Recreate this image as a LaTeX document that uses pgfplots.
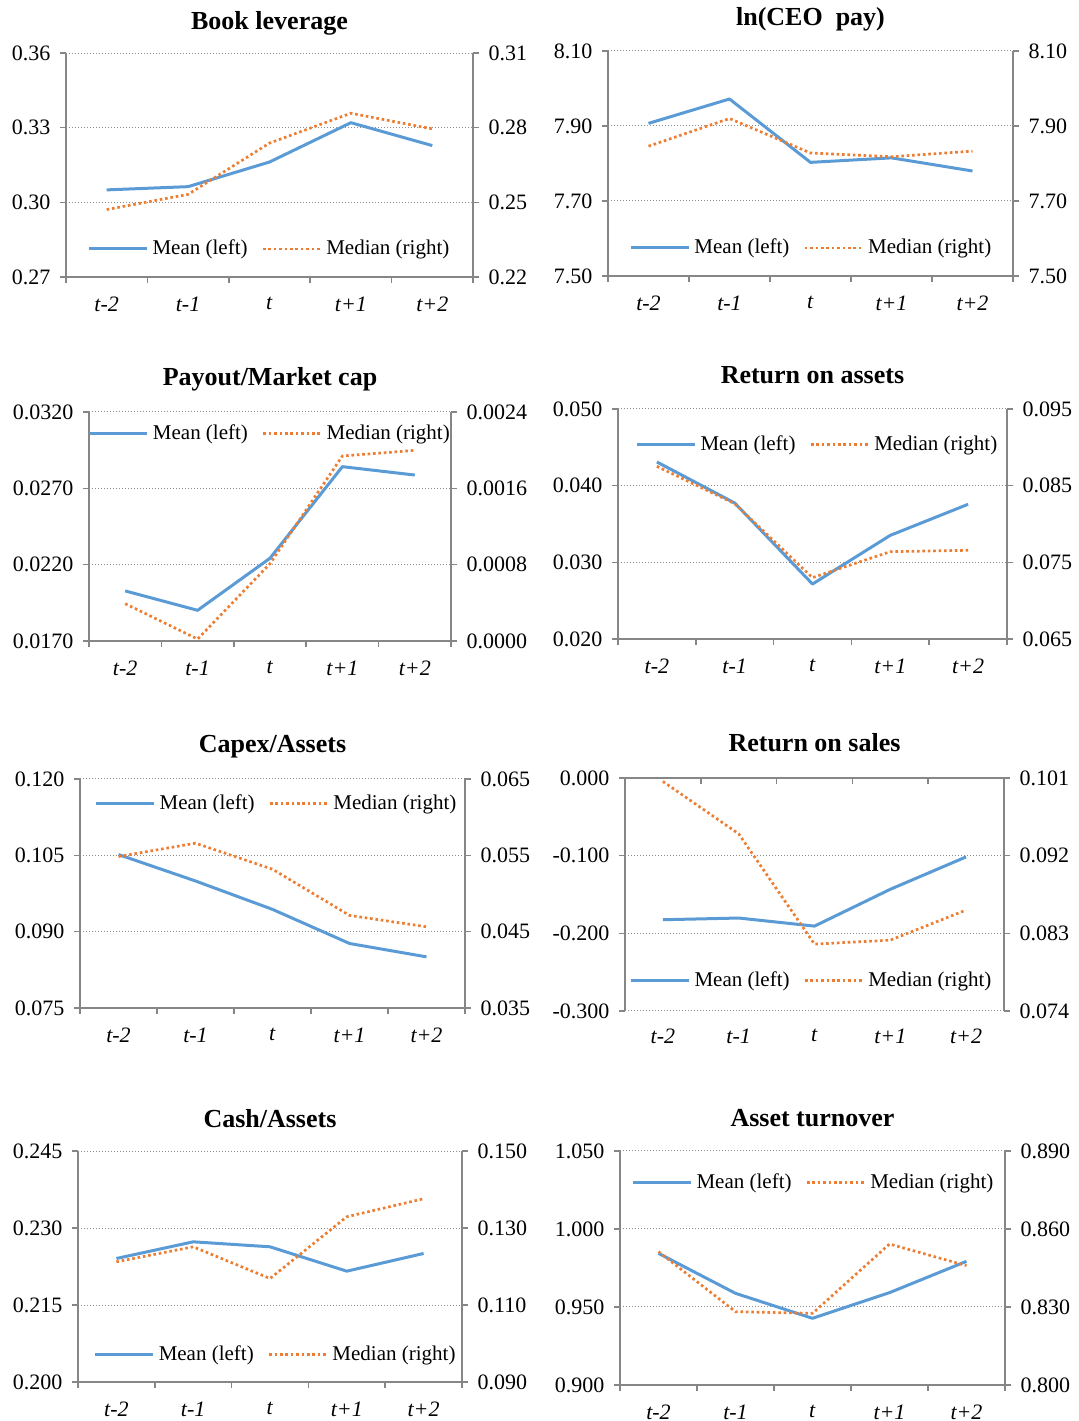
\documentclass[border=0pt]{standalone}
\usepackage{pgfplots}
\pgfplotsset{compat=1.18}
\usepackage{fontspec}
\setmainfont{Liberation Serif}
\definecolor{meanblue}{RGB}{91,155,213}
\definecolor{medorange}{RGB}{237,125,49}
\definecolor{axisgray}{RGB}{134,134,134}
\definecolor{gridgray}{RGB}{140,140,140}
\tikzset{
  meanline/.style={meanblue, line width=1.5pt, line join=round, solid},
  medline/.style={medorange, line width=1.35pt, dash pattern=on 1.3pt off 1.4pt},
}
\pgfplotsset{
  legend image code/.code={\draw[#1] (0pt,0pt) -- (29pt,0pt);},
  common/.style={scale only axis, anchor=south west, xmin=-0.5, xmax=4.5, clip=false,
    scaled y ticks=false, scaled x ticks=false,
    tick align=outside, major tick length=3pt,
    tick style={draw=axisgray, line width=0.75pt},
    axis line style={draw=axisgray, line width=0.75pt},
    tick label style={font=\fontsize{11}{13}\selectfont},
  },
  mainax/.style={common,
    axis lines*=left,
    ymajorgrids,
    major grid style={draw=gridgray, line width=0.5pt, dash pattern=on 0.5pt off 1pt},
    yticklabel style={xshift=-1.3pt},
    xticklabel style={yshift=-2.5pt},
    title style={font=\bfseries\fontsize{13}{15}\selectfont, at={(0.5,1)}, anchor=center},
  },
  xcat/.style={xtick={-0.5,0.5,...,4.5}, xticklabels={,,,,,},
    extra x ticks={0,1,2,3,4},
    extra x tick labels={\textit{t-2},\textit{t-1},\textit{t},\textit{t+1},\textit{t+2}},
    extra x tick style={major tick length=0pt},
    xticklabel style={yshift=-3.8pt}},
  secax/.style={common,
    axis y line*=right, axis x line=none, xtick=\empty,
    yticklabel style={xshift=1.3pt},
    legend columns=2,
    legend style={draw=none, fill=none, inner sep=0pt, anchor=west,
      font=\fontsize{10.5}{12}\selectfont,
      /tikz/every even column/.append style={column sep=5pt}},
  },
}
\begin{document}
\begin{tikzpicture}
\useasboundingbox (0,0) rectangle (539pt,710.5pt);
% ---------- Panel 1: Book leverage
\begin{axis}[mainax, xcat, at={(33pt,572pt)}, width=203.5pt, height=112pt,
  ymin=0.27, ymax=0.36, ytick={0.27,0.30,0.33,0.36}, yticklabels={0.27,0.30,0.33,0.36},
  title={Book leverage}, title style={yshift=9pt}]
\addplot[meanline] coordinates {(0,0.3050) (1,0.3063) (2,0.3162) (3,0.3320) (4,0.3228)};
\end{axis}
\begin{axis}[secax, at={(33pt,572pt)}, width=203.5pt, height=112pt,
  ymin=0.22, ymax=0.31, ytick={0.22,0.25,0.28,0.31}, yticklabels={0.22,0.25,0.28,0.31},
  legend style={at={(0.052,0.125)}}]
\addlegendimage{meanline}\addlegendentry{Mean (left)}
\addplot[medline] coordinates {(0,0.2471) (1,0.2532) (2,0.2738) (3,0.2858) (4,0.2795)};
\addlegendentry{Median (right)}
\end{axis}
% ---------- Panel 2: ln(CEO pay)
\begin{axis}[mainax, xcat, at={(304pt,572.5pt)}, width=202.5pt, height=112.5pt,
  ymin=7.5, ymax=8.1, ytick={7.5,7.7,7.9,8.1}, yticklabels={7.50,7.70,7.90,8.10},
  title={ln(CEO\ \ pay)}, title style={yshift=10pt}]
\addplot[meanline] coordinates {(0,7.907) (1,7.972) (2,7.803) (3,7.815) (4,7.780)};
\end{axis}
\begin{axis}[secax, at={(304pt,572.5pt)}, width=202.5pt, height=112.5pt,
  ymin=7.5, ymax=8.1, ytick={7.5,7.7,7.9,8.1}, yticklabels={7.50,7.70,7.90,8.10},
  legend style={at={(0.052,0.125)}}]
\addlegendimage{meanline}\addlegendentry{Mean (left)}
\addplot[medline] coordinates {(0,7.846) (1,7.920) (2,7.828) (3,7.818) (4,7.833)};
\addlegendentry{Median (right)}
\end{axis}
% ---------- Panel 3: Payout/Market cap
\begin{axis}[mainax, xcat, at={(44.5pt,390pt)}, width=181pt, height=114.5pt,
  ymin=0.017, ymax=0.032, ytick={0.017,0.022,0.027,0.032}, yticklabels={0.0170,0.0220,0.0270,0.0320},
  title={Payout/Market cap}, title style={yshift=10.5pt}]
\addplot[meanline] coordinates {(0,0.02028) (1,0.01901) (2,0.02242) (3,0.02842) (4,0.02787)};
\end{axis}
\begin{axis}[secax, at={(44.5pt,390pt)}, width=181pt, height=114.5pt,
  ymin=0, ymax=0.0024, ytick={0,0.0008,0.0016,0.0024}, yticklabels={0.0000,0.0008,0.0016,0.0024},
  legend style={at={(-0.004,0.905)}}]
\addlegendimage{meanline}\addlegendentry{Mean (left)}
\addplot[medline] coordinates {(0,0.000391) (1,0.00002) (2,0.00081) (3,0.001939) (4,0.001998)};
\addlegendentry{Median (right)}
\end{axis}
% ---------- Panel 4: Return on assets
\begin{axis}[mainax, xcat, at={(309pt,391pt)}, width=194.5pt, height=115pt,
  ymin=0.02, ymax=0.05, ytick={0.02,0.03,0.04,0.05}, yticklabels={0.020,0.030,0.040,0.050},
  title={Return on assets}, title style={yshift=11pt}]
\addplot[meanline] coordinates {(0,0.04309) (1,0.03774) (2,0.02717) (3,0.03352) (4,0.03757)};
\end{axis}
\begin{axis}[secax, at={(309pt,391pt)}, width=194.5pt, height=115pt,
  ymin=0.065, ymax=0.095, ytick={0.065,0.075,0.085,0.095}, yticklabels={0.065,0.075,0.085,0.095},
  legend style={at={(0.044,0.845)}}]
\addlegendimage{meanline}\addlegendentry{Mean (left)}
\addplot[medline] coordinates {(0,0.08752) (1,0.08265) (2,0.0730) (3,0.07639) (4,0.07657)};
\addlegendentry{Median (right)}
\end{axis}
% ---------- Panel 5: Capex/Assets
\begin{axis}[mainax, xcat, at={(40pt,206.5pt)}, width=192.5pt, height=114.5pt,
  ymin=0.075, ymax=0.12, ytick={0.075,0.09,0.105,0.12}, yticklabels={0.075,0.090,0.105,0.120},
  title={Capex/Assets}, title style={yshift=10pt}]
\addplot[meanline] coordinates {(0,0.10515) (1,0.09996) (2,0.09438) (3,0.08768) (4,0.08505)};
\end{axis}
\begin{axis}[secax, at={(40pt,206.5pt)}, width=192.5pt, height=114.5pt,
  ymin=0.035, ymax=0.065, ytick={0.035,0.045,0.055,0.065}, yticklabels={0.035,0.045,0.055,0.065},
  legend style={at={(0.037,0.892)}}]
\addlegendimage{meanline}\addlegendentry{Mean (left)}
\addplot[medline] coordinates {(0,0.05484) (1,0.05659) (2,0.05318) (3,0.04713) (4,0.04564)};
\addlegendentry{Median (right)}
\end{axis}
% ---------- Panel 6: Return on sales
\begin{axis}[mainax, at={(312.5pt,205pt)}, width=189.5pt, height=116.5pt,
  xtick={0,1,2,3,4}, xticklabels={\textit{t-2},\textit{t-1},\textit{t},\textit{t+1},\textit{t+2}},
  xtick style={draw=none}, x axis line style={draw=none},
  ymin=-0.3, ymax=0, ytick={-0.3,-0.2,-0.1,0}, yticklabels={-0.300,-0.200,-0.100,0.000},
  title={Return on sales}, title style={yshift=11.5pt}]
\addplot[meanline] coordinates {(0,-0.1825) (1,-0.1803) (2,-0.1907) (3,-0.1433) (4,-0.1016)};
\draw[axisgray, line width=0.75pt] (axis cs:-0.5,0) -- (axis cs:4.5,0);
\draw[axisgray, line width=0.75pt]
  (axis cs:-0.5,0) -- ([yshift=-3pt]axis cs:-0.5,0)
  (axis cs:0.5,0) -- ([yshift=-3pt]axis cs:0.5,0)
  (axis cs:1.5,0) -- ([yshift=-3pt]axis cs:1.5,0)
  (axis cs:2.5,0) -- ([yshift=-3pt]axis cs:2.5,0)
  (axis cs:3.5,0) -- ([yshift=-3pt]axis cs:3.5,0)
  (axis cs:4.5,0) -- ([yshift=-3pt]axis cs:4.5,0);
\end{axis}
\begin{axis}[secax, at={(312.5pt,205pt)}, width=189.5pt, height=116.5pt,
  ymin=0.074, ymax=0.101, ytick={0.074,0.083,0.092,0.101}, yticklabels={0.074,0.083,0.092,0.101},
  legend style={at={(0.011,0.13)}}]
\addlegendimage{meanline}\addlegendentry{Mean (left)}
\addplot[medline] coordinates {(0,0.1006) (1,0.09453) (2,0.08175) (3,0.08221) (4,0.0857)};
\addlegendentry{Median (right)}
\end{axis}
% ---------- Panel 7: Cash/Assets
\begin{axis}[mainax, xcat, at={(39pt,19.5pt)}, width=192pt, height=115.5pt,
  ymin=0.2, ymax=0.245, ytick={0.2,0.215,0.23,0.245}, yticklabels={0.200,0.215,0.230,0.245},
  title={Cash/Assets}, title style={yshift=10pt}]
\addplot[meanline] coordinates {(0,0.22406) (1,0.22731) (2,0.22634) (3,0.22159) (4,0.22504)};
\end{axis}
\begin{axis}[secax, at={(39pt,19.5pt)}, width=192pt, height=115.5pt,
  ymin=0.09, ymax=0.15, ytick={0.09,0.11,0.13,0.15}, yticklabels={0.090,0.110,0.130,0.150},
  legend style={at={(0.040,0.118)}}]
\addlegendimage{meanline}\addlegendentry{Mean (left)}
\addplot[medline] coordinates {(0,0.12121) (1,0.12512) (2,0.11688) (3,0.13292) (4,0.1376)};
\addlegendentry{Median (right)}
\end{axis}
% ---------- Panel 8: Asset turnover
\begin{axis}[mainax, xcat, at={(310pt,18pt)}, width=192.5pt, height=117pt,
  ymin=0.9, ymax=1.05, ytick={0.9,0.95,1.0,1.05}, yticklabels={0.900,0.950,1.000,1.050},
  title={Asset turnover}, title style={yshift=10.5pt}]
\addplot[meanline] coordinates {(0,0.9844) (1,0.95876) (2,0.94274) (3,0.95919) (4,0.97927)};
\end{axis}
\begin{axis}[secax, at={(310pt,18pt)}, width=192.5pt, height=117pt,
  ymin=0.8, ymax=0.89, ytick={0.8,0.83,0.86,0.89}, yticklabels={0.800,0.830,0.860,0.890},
  legend style={at={(0.029,0.865)}}]
\addlegendimage{meanline}\addlegendentry{Mean (left)}
\addplot[medline] coordinates {(0,0.85128) (1,0.8282) (2,0.82756) (3,0.85423) (4,0.8459)};
\addlegendentry{Median (right)}
\end{axis}
\end{tikzpicture}
\end{document}
